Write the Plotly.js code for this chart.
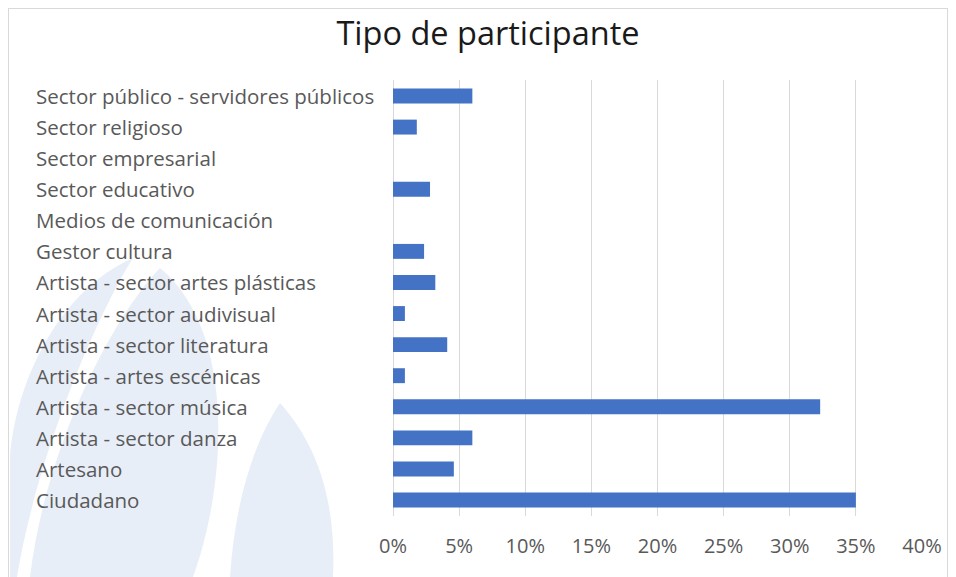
<!DOCTYPE html>
<html>
<head>
<meta charset="utf-8">
<script src="https://cdn.plot.ly/plotly-3.0.1.min.js"></script>
<style>
  html, body { margin: 0; padding: 0; background: #fff; }
  #wrap { position: relative; width: 956px; height: 577px; overflow: hidden; }
  #chart { position: absolute; left: 0; top: 0; width: 956px; height: 577px; }
  #frame { position: absolute; left: 8px; top: 8px; width: 940px; height: 600px;
           border: 1px solid #d9d9d9; pointer-events: none; box-sizing: border-box; }
</style>
</head>
<body>
<div id="wrap"><div id="chart"></div><div id="frame"></div></div>
<script>
// Data (bottom to top, as drawn)
const categories = [
  'Ciudadano',
  'Artesano',
  'Artista - sector danza',
  'Artista - sector música',
  'Artista - artes escénicas',
  'Artista - sector literatura',
  'Artista - sector audivisual',
  'Artista - sector artes plásticas',
  'Gestor cultura',
  'Medios de comunicación',
  'Sector educativo',
  'Sector empresarial',
  'Sector religioso',
  'Sector público - servidores públicos'
];
const values = [0.350, 0.046, 0.060, 0.323, 0.009, 0.041, 0.009, 0.032, 0.0235, 0, 0.028, 0, 0.018, 0.060];
const xTickVals = [0, 0.05, 0.10, 0.15, 0.20, 0.25, 0.30, 0.35, 0.40];
const xTickText = ['0%', '5%', '10%', '15%', '20%', '25%', '30%', '35%', '40%'];
const chartTitle = 'Tipo de participante';

// Layout geometry (pixels)
const W = 956, H = 577;
const M = { l: 393, r: 34, t: 80, b: 61 };
const pw = W - M.l - M.r, ph = H - M.t - M.b;
const px = x => ((x - M.l) / pw).toFixed(4);
const py = y => ((H - M.b - y) / ph).toFixed(4);
function path(cmds) {
  return cmds.map(c => c[0] + (c[1] ? ' ' + c[1].reduce((a, v, i, arr) => {
    if (i % 2 === 0) a.push(px(v) + ',' + py(arr[i + 1]));
    return a;
  }, []).join(' ') : '')).join(' ');
}

// decorative watermark (flame), light blue
const wm = '#e8eef7';
const shapes = [
  { type: 'path', xref: 'paper', yref: 'paper', layer: 'below', fillcolor: wm, line: { width: 0 },
    path: path([['M', [10, 457]], ['C', [16, 380, 60, 290, 133, 258]], ['C', [100, 310, 38, 450, 17, 577]], ['L', [10, 577]], ['Z']]) },
  { type: 'path', xref: 'paper', yref: 'paper', layer: 'below', fillcolor: wm, line: { width: 0 },
    path: path([['M', [30, 577]], ['C', [45, 450, 110, 320, 160, 268]], ['C', [235, 330, 228, 480, 193, 577]], ['Z']]) },
  { type: 'path', xref: 'paper', yref: 'paper', layer: 'below', fillcolor: wm, line: { width: 0 },
    path: path([['M', [230, 577]], ['C', [235, 500, 255, 440, 280, 403]], ['C', [322, 450, 336, 510, 333, 577]], ['Z']]) }
];

const font = '"Open Sans", "Noto Sans", sans-serif';
const annotations = categories.map(c => ({
  xref: 'paper', yref: 'y', x: px(34), y: c, xanchor: 'left', yanchor: 'middle',
  text: c, showarrow: false, font: { family: font, size: 20.5, color: '#595959' }
}));

const trace = {
  type: 'bar', orientation: 'h', y: categories, x: values,
  marker: { color: '#4472c4' }, hoverinfo: 'x+y'
};

const layout = {
  width: W, height: H,
  margin: M,
  paper_bgcolor: 'rgba(0,0,0,0)', plot_bgcolor: 'rgba(0,0,0,0)',
  title: { text: chartTitle, x: 488 / W, xref: 'container', xanchor: 'center', y: 1 - 34 / H, yref: 'container', yanchor: 'middle',
           font: { family: font, size: 32.5, color: '#1a1a1a' } },
  bargap: 0.52,
  showlegend: false,
  xaxis: {
    range: [0, 0.40], tickvals: xTickVals, ticktext: xTickText,
    showgrid: true, gridcolor: '#d9d9d9', gridwidth: 1,
    zeroline: true, zerolinecolor: '#d9d9d9', zerolinewidth: 1,
    showline: false, ticks: '', ticklabelstandoff: 16,
    tickfont: { family: font, size: 20, color: '#595959' }, fixedrange: true
  },
  yaxis: {
    type: 'category', categoryorder: 'array', categoryarray: categories,
    showticklabels: false, showgrid: false, zeroline: false, showline: false, ticks: '', fixedrange: true
  },
  annotations: annotations,
  shapes: shapes
};

Plotly.newPlot('chart', [trace], layout, { displayModeBar: false, staticPlot: true });
</script>
</body>
</html>
